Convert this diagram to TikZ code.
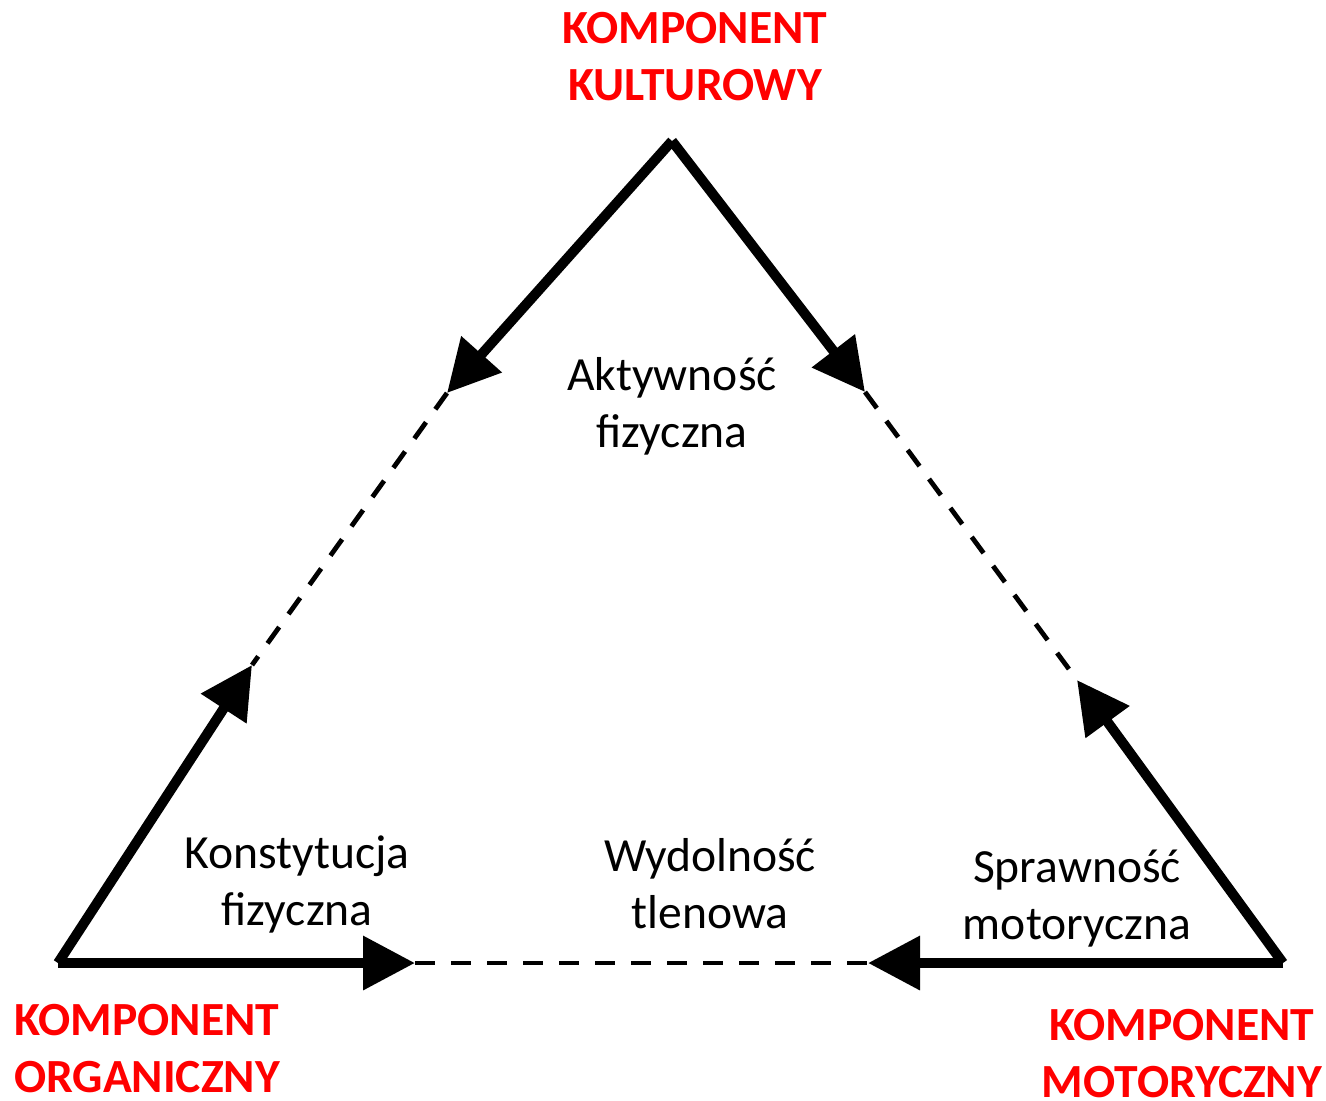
\documentclass[tikz,border=0pt]{standalone}
\usepackage{fontspec}
\setmainfont{Carlito}
\usetikzlibrary{arrows.meta}
\begin{document}
\begin{tikzpicture}[x=0.5pt,y=-0.5pt,
  solidarrow/.style={line width=5pt,-{Triangle[length=26pt,width=26pt]}},
  dashline/.style={line width=2.4pt,dash pattern=on 10pt off 8pt},
  redlabel/.style={text=red,font=\fontsize{23.8}{28.5}\selectfont\bfseries,align=center,inner sep=0pt},
  blacklabel/.style={font=\fontsize{23.8}{28.5}\selectfont,align=center,inner sep=0pt}]
\useasboundingbox (0,0) rectangle (1326,1100);
\coordinate (apex) at (672,141);
\coordinate (bl) at (58,963);
\coordinate (br) at (1283,963);
\coordinate (tl) at (447,393);
\coordinate (ml) at (252,665);
\coordinate (tr) at (865,392);
\coordinate (mr) at (1077,680);
\coordinate (bml) at (415,963);
\coordinate (bmr) at (868,963);
\draw[solidarrow] (apex) -- (tl);
\draw[solidarrow] (apex) -- (tr);
\draw[solidarrow] (bl) -- (ml);
\draw[solidarrow] (bl) -- (bml);
\draw[solidarrow] (br) -- (mr);
\draw[solidarrow] (br) -- (bmr);
\draw[dashline] (tl) -- (ml);
\draw[dashline] (tr) -- (mr);
\draw[dashline] (bml) -- (bmr);
\node[redlabel] (kult) at (695,57) {KOMPONENT\\KULTUROWY};
\node[redlabel] (org) at (147,1049) {KOMPONENT\\ORGANICZNY};
\node[redlabel] (mot) at (1182,1054) {KOMPONENT\\MOTORYCZNY};
\node[blacklabel] (akt) at (672,406) {Aktywność\\fizyczna};
\node[blacklabel] (kon) at (297,884) {Konstytucja\\fizyczna};
\node[blacklabel] (wyd) at (710,884) {Wydolność\\tlenowa};
\node[blacklabel] (spr) at (1077,899) {Sprawność\\motoryczna};
\end{tikzpicture}
\end{document}
